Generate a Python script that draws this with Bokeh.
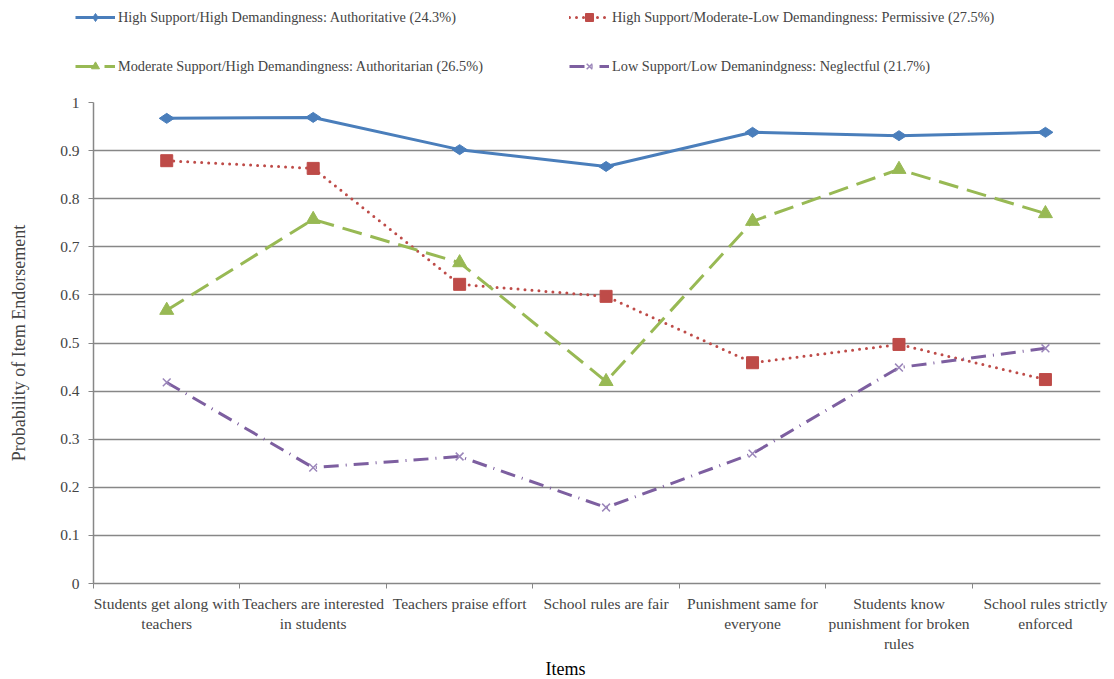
import math
from bokeh.plotting import figure
from bokeh.layouts import column
from bokeh.models import Range1d, FixedTicker, Legend, LegendItem, Title
from bokeh.embed import file_html
from bokeh.resources import INLINE

items = ["Students get along with\nteachers", "Teachers are interested\nin students",
         "Teachers praise effort", "School rules are fair", "Punishment same for\neveryone",
         "Students know\npunishment for broken\nrules", "School rules strictly\nenforced"]
xs = list(range(len(items)))
authoritative = [0.967, 0.969, 0.902, 0.867, 0.938, 0.931, 0.938]
permissive = [0.879, 0.863, 0.622, 0.597, 0.459, 0.497, 0.424]
authoritarian = [0.568, 0.757, 0.667, 0.420, 0.753, 0.861, 0.769]
neglectful = [0.418, 0.241, 0.264, 0.158, 0.270, 0.449, 0.489]
names = ["High Support/High Demandingness: Authoritative (24.3%)",
         "High Support/Moderate-Low Demandingness: Permissive (27.5%)",
         "Moderate Support/High Demandingness: Authoritarian (26.5%)",
         "Low Support/Low Demanindgness: Neglectful (21.7%)"]
y_ticks = [0, 0.1, 0.2, 0.3, 0.4, 0.5, 0.6, 0.7, 0.8, 0.9, 1]
y_labels = ["0", "0.1", "0.2", "0.3", "0.4", "0.5", "0.6", "0.7", "0.8", "0.9", "1"]
x_title = "Items"
y_title = "Probability of Item Endorsement"

FONT = "Liberation Serif"
GRAY = "#878787"

series = [
    (authoritative, "#4A7EBB", None, "diamond", 15, math.pi / 2),
    (permissive, "#BE4B48", "0 7", "square", 12, 0),
    (authoritarian, "#98B954", "20 9", "triangle", 14, 0),
    (neglectful, "#7D5FA0", "15 7 1 7", "x", 11, 0),
]


def draw(fig, vals, col, dash, marker, size, ang):
    kw = {}
    if dash:
        kw["line_dash"] = dash
    cap = "round" if dash == "0 7" else "butt"
    ln = fig.line(xs, vals, line_color=col, line_width=3, line_cap=cap, **kw)
    if marker == "x":
        sc = fig.scatter(xs, vals, marker=marker, size=size, line_color="#9B86BA",
                         line_width=1.5, angle=ang)
    else:
        sc = fig.scatter(xs, vals, marker=marker, size=size, fill_color=col,
                         line_color=col, angle=ang)
    return ln, sc


# ---- legend strip (its series sit outside its visible range; only the legend shows) ----
pl = figure(width=1114, height=90, output_backend="svg", toolbar_location=None,
            x_range=Range1d(0, 1), y_range=Range1d(5, 6),
            min_border_left=0, min_border_right=0, min_border_top=0, min_border_bottom=0)
pl.frame_align = False
pl.axis.visible = False
pl.grid.visible = False
pl.outline_line_color = None
legend_items = []
for (vals, col, dash, marker, size, ang), name in zip(series, names):
    ln, sc = draw(pl, vals, col, dash, marker, size, ang)
    legend_items.append(LegendItem(label=name, renderers=[ln, sc]))
legend = Legend(items=legend_items, orientation="horizontal", ncols=2,
                location=(75, 14), padding=0, margin=0, spacing=29,
                glyph_width=40, glyph_height=20, label_height=20, label_width=422,
                label_standoff=3, border_line_color=None, background_fill_alpha=0,
                label_text_font=FONT, label_text_font_size="14.3px")
pl.add_layout(legend, "center")

# ---- main chart ----
p = figure(width=1114, height=589, output_backend="svg", toolbar_location=None,
           x_range=Range1d(-0.5, 6.376), y_range=Range1d(0, 1),
           min_border_left=93, min_border_right=14, min_border_top=12, min_border_bottom=0)
p.frame_align = False
p.outline_line_color = None
p.background_fill_color = "white"

for vals, col, dash, marker, size, ang in series:
    draw(p, vals, col, dash, marker, size, ang)

# y axis
p.yaxis.ticker = FixedTicker(ticks=y_ticks)
p.yaxis.major_label_overrides = {t: l for t, l in zip(y_ticks, y_labels)}
p.yaxis.minor_tick_line_color = None
p.yaxis.major_tick_in = 0
p.yaxis.major_tick_out = 5
p.yaxis.axis_line_color = GRAY
p.yaxis.major_tick_line_color = GRAY
p.yaxis.axis_line_width = 1.5
p.yaxis.major_label_text_font = FONT
p.yaxis.major_label_text_font_size = "15.5px"
p.yaxis.major_label_standoff = 9
p.yaxis.axis_label = y_title
p.yaxis.axis_label_text_font = FONT
p.yaxis.axis_label_text_font_size = "18px"
p.yaxis.axis_label_text_font_style = "normal"
p.yaxis.axis_label_standoff = 28

# x axis
boundaries = [-0.5, 0.5, 1.5, 2.5, 3.5, 4.5, 5.5, 6.5]
p.xaxis.ticker = FixedTicker(ticks=xs, minor_ticks=boundaries)
p.xaxis.major_label_overrides = {x: l for x, l in zip(xs, items)}
p.xaxis.major_tick_line_color = None
p.xaxis.major_tick_in = 0
p.xaxis.major_tick_out = 0
p.xaxis.minor_tick_in = 0
p.xaxis.minor_tick_out = 5
p.xaxis.minor_tick_line_color = GRAY
p.xaxis.axis_line_color = GRAY
p.xaxis.axis_line_width = 1.5
p.xaxis.major_label_text_font = FONT
p.xaxis.major_label_text_font_size = "15.5px"
p.xaxis.major_label_standoff = 6

p.add_layout(Title(text=x_title, align="left", offset=452, standoff=2,
                   text_font=FONT, text_font_size="18px", text_font_style="normal",
                   text_color="black"), "below")

p.xgrid.grid_line_color = None
p.ygrid.grid_line_color = GRAY
p.ygrid.grid_line_width = 1.5

layout = column(pl, p, spacing=0)
open("out.html", "w").write(file_html(layout, INLINE))
